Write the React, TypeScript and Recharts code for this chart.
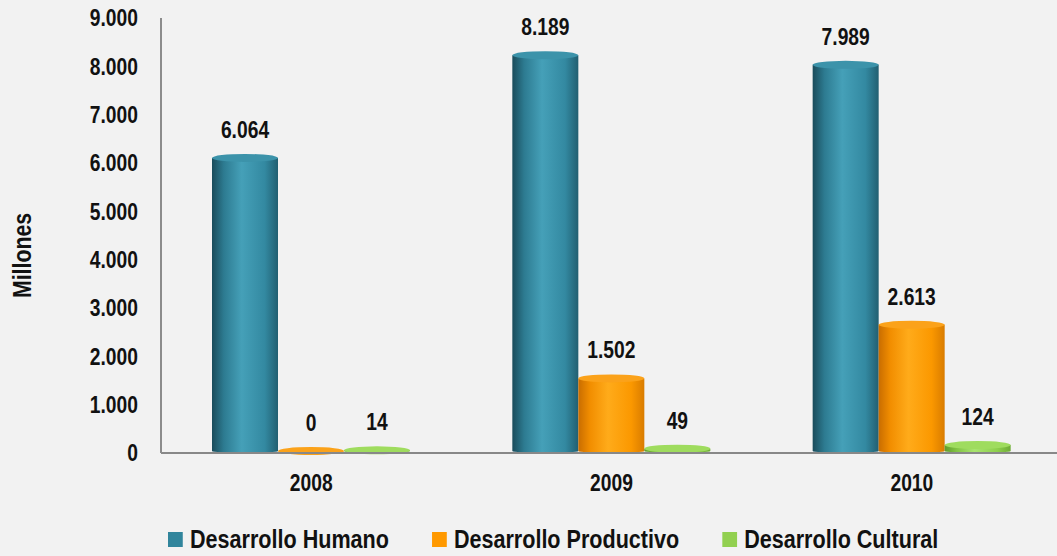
import React from 'react';
import { BarChart, Bar, XAxis, YAxis, Legend, LabelList } from 'recharts';

const years = ['2008', '2009', '2010'];
const humano = [6064, 8189, 7989];
const productivo = [0, 1502, 2613];
const cultural = [14, 49, 124];
const yTicks = [0, 1000, 2000, 3000, 4000, 5000, 6000, 7000, 8000, 9000];

const data = years.map((year, i) => ({
  year,
  humano: humano[i],
  productivo: productivo[i],
  cultural: cultural[i],
}));

const series = [
  { key: 'humano', name: 'Desarrollo Humano', color: '#31859c', top: '#3c93aa', stops: ['#1a4c5b', '#2d7b91', '#45a0b8', '#3389a1', '#215f71'] },
  { key: 'productivo', name: 'Desarrollo Productivo', color: '#ff9900', top: '#fba21a', stops: ['#c96d00', '#f28e00', '#ffab1a', '#fb9800', '#d97c00'] },
  { key: 'cultural', name: 'Desarrollo Cultural', color: '#92d050', top: '#9fdc5e', stops: ['#5f9b2c', '#82c444', '#a8e46e', '#8dcf4c', '#6eab36'] },
];

// no narrow font installed, so squeeze Liberation Sans to look like Arial Narrow
const FONT = "'Liberation Sans', Arial, sans-serif";
const SQUEEZE = 0.82;
const TEXT = '#111';

const fmt = (v: number) => String(v).replace(/\B(?=(\d{3})+(?!\d))/g, '.');

const makeCylinder = (id: string, top: string) => (props: any) => {
  const { x, y, width, height } = props;
  if (x == null || width == null) return null;
  const rx = width / 2;
  const ry = 4;
  const lift = 2;
  const h = Math.max(height || 0, 0);
  const topY = y - lift;
  const d = `M${x},${topY} L${x},${y + h - 2} A${rx},2 0 0 0 ${x + width},${y + h - 2} L${x + width},${topY} Z`;
  return (
    <g>
      <path d={d} fill={`url(#${id})`} />
      <ellipse cx={x + rx} cy={topY} rx={rx} ry={ry} fill={top} />
    </g>
  );
};

const NarrowText = ({ x, y, anchor, dy, size, children }: any) => (
  <g transform={`translate(${x},${y})`}>
    <text transform={`scale(${SQUEEZE},1)`} textAnchor={anchor} dy={dy} fontFamily={FONT} fontWeight="bold" fontSize={size} fill={TEXT}>
      {children}
    </text>
  </g>
);

const YTick = (props: any) => (
  <NarrowText x={props.x} y={props.y} anchor="end" dy="0.355em" size={23.5}>{fmt(props.payload.value)}</NarrowText>
);

const XTick = (props: any) => (
  <NarrowText x={props.x} y={props.y} anchor="middle" dy="0.71em" size={23.5}>{props.payload.value}</NarrowText>
);

const BarValue = (props: any) => {
  const { x, y, width, value } = props;
  return <NarrowText x={x + width / 2} y={y - 22} anchor="middle" dy={0} size={23.5}>{fmt(Number(value))}</NarrowText>;
};

const LegendContent = () => (
  <div style={{ display: 'flex', alignItems: 'center', fontFamily: FONT, fontWeight: 'bold', fontSize: 26.3, color: TEXT,
    whiteSpace: 'nowrap', transform: `scaleX(${SQUEEZE})`, transformOrigin: '0 0' }}>
    {series.map((s, i) => (
      <div key={s.key} style={{ display: 'flex', alignItems: 'center', marginRight: i < series.length - 1 ? 43 / SQUEEZE : 0 }}>
        <span style={{ display: 'inline-block', width: 15 / SQUEEZE, height: 15, background: s.color, marginRight: 7 / SQUEEZE }} />
        <span>{s.name}</span>
      </div>
    ))}
  </div>
);

const MillonesLabel = (props: any) => {
  const { viewBox } = props;
  const x = viewBox.x + 22;
  const y = viewBox.y + viewBox.height / 2 + 20;
  return (
    <g transform={`translate(${x},${y}) rotate(-90)`}>
      <text transform={`scale(${SQUEEZE},1)`} textAnchor="middle" dominantBaseline="central"
        fontFamily={FONT} fontWeight="bold" fontSize={26} fill={TEXT}>
        Millones
      </text>
    </g>
  );
};

export default function App() {
  return (
    <div style={{ position: 'fixed', left: 0, top: 0, width: 1057, height: 556, background: '#f2f2f2', overflow: 'hidden' }}>
      <BarChart width={1062} height={556} data={data} margin={{ top: 18, right: 0, bottom: 73, left: 0 }}
        barCategoryGap={51} barGap={0}>
        <defs>
          {series.map((s) => (
            <linearGradient key={s.key} id={`g-${s.key}`} x1="0" y1="0" x2="1" y2="0">
              <stop offset="0%" stopColor={s.stops[0]} />
              <stop offset="18%" stopColor={s.stops[1]} />
              <stop offset="45%" stopColor={s.stops[2]} />
              <stop offset="80%" stopColor={s.stops[3]} />
              <stop offset="100%" stopColor={s.stops[4]} />
            </linearGradient>
          ))}
        </defs>
        <XAxis dataKey="year" tickLine={false} tickSize={0} tickMargin={21} axisLine={{ stroke: '#888888', strokeWidth: 2 }} tick={<XTick />} />
        <YAxis width={161} domain={[0, 9000]} ticks={yTicks} tickLine={false} tickSize={0} tickMargin={23}
          axisLine={{ stroke: '#8c8c8c', strokeWidth: 2 }} tick={<YTick />} label={<MillonesLabel />} />
        <Legend layout="horizontal" verticalAlign="middle" align="center" content={<LegendContent />}
          wrapperStyle={{ left: 168, top: 524, width: 'auto' }} />
        {series.map((s) => (
          <Bar key={s.key} dataKey={s.key} name={s.name} fill={s.color} isAnimationActive={false}
            shape={makeCylinder(`g-${s.key}`, s.top)}>
            <LabelList dataKey={s.key} content={<BarValue />} />
          </Bar>
        ))}
      </BarChart>
    </div>
  );
}
